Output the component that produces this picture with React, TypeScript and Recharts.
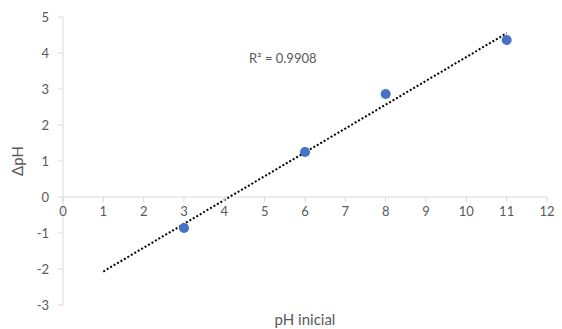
import {
  ComposedChart,
  Scatter,
  Line,
  XAxis,
  YAxis,
  ZAxis,
  ReferenceLine,
  ReferenceDot,
  Label,
} from "recharts";

const phInicial = [3, 6, 8, 11];
const deltaPh = [-0.86, 1.25, 2.86, 4.36];

// linear trendline endpoints as drawn (x from 1 to 11)
const trendX = [1, 11];
const trendY = [-2.07, 4.55];

const xTicks = [0, 1, 2, 3, 4, 5, 6, 7, 8, 9, 10, 11, 12];
const yTicks = [-3, -2, -1, 0, 1, 2, 3, 4, 5];

const points = phInicial.map((x, i) => ({ x, y: deltaPh[i] }));
const trend = trendX.map((x, i) => ({ x, y: trendY[i] }));

const FONT = "Lato, 'Open Sans', sans-serif";
const GRAY = "#595959";
const AXIS = "#d9d9d9";

// plot area geometry: top 17, height 288, y domain -3..5
const ZERO_Y = 17 + (288 * 5) / 8;

function XTick(props: any) {
  const { x, payload } = props;
  return (
    <g>
      <line x1={x} x2={x} y1={ZERO_Y} y2={ZERO_Y + 5} stroke={AXIS} />
      <text
        x={x}
        y={ZERO_Y + 19}
        textAnchor="middle"
        fill={GRAY}
        fontSize={13}
        fontFamily={FONT}
      >
        {payload.value}
      </text>
    </g>
  );
}

export default function App() {
  return (
    <div style={{ position: "absolute", left: 0, top: 0, background: "#fff" }}>
      <ComposedChart
        width={562}
        height={329}
        margin={{ top: 17, right: 15, bottom: 0, left: 0 }}
      >
        <XAxis
          type="number"
          dataKey="x"
          domain={[0, 12]}
          ticks={xTicks}
          axisLine={false}
          tickLine={false}
          tick={<XTick />}
          height={24}
          interval={0}
        >
          <Label
            value="pH inicial"
            position="insideBottom"
            offset={4}
            fill={GRAY}
            fontSize={15}
            fontFamily={FONT}
          />
        </XAxis>
        <YAxis
          type="number"
          dataKey="y"
          domain={[-3, 5]}
          ticks={yTicks}
          width={63}
          axisLine={{ stroke: AXIS }}
          tickLine={{ stroke: AXIS }}
          tickSize={5}
          tickMargin={9}
          interval={0}
          tick={{ fill: GRAY, fontSize: 13, fontFamily: FONT }}
        >
          <Label
            value="ΔpH"
            angle={-90}
            position="insideLeft"
            offset={18}
            fill={GRAY}
            fontSize={15}
            fontFamily={FONT}
            style={{ textAnchor: "middle" }}
          />
        </YAxis>
        <ZAxis range={[80, 80]} />
        <ReferenceLine y={0} stroke={AXIS} />
        <Line
          data={trend}
          dataKey="y"
          type="linear"
          stroke="#000"
          strokeWidth={2}
          strokeDasharray="2 2"
          dot={false}
          activeDot={false}
          isAnimationActive={false}
        />
        <Scatter
          data={points}
          dataKey="y"
          fill="#4472C4"
          isAnimationActive={false}
        />
        <ReferenceDot x={5.45} y={3.86} r={0} fill="none" stroke="none">
          <Label
            value="R² = 0.9908"
            position="center"
            fill={GRAY}
            fontSize={13}
            fontFamily={FONT}
          />
        </ReferenceDot>
      </ComposedChart>
    </div>
  );
}
